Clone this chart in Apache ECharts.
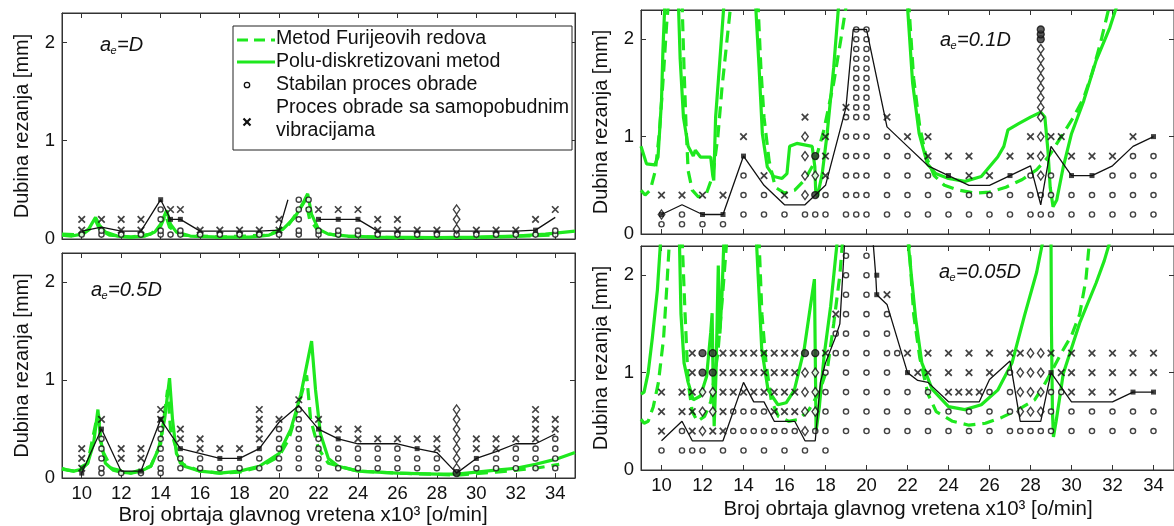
<!DOCTYPE html>
<html><head><meta charset="utf-8">
<script src="https://cdn.jsdelivr.net/npm/echarts@6/dist/echarts.min.js"></script>
<style>html,body{margin:0;padding:0;background:#fff}#c{width:1174px;height:526px}</style>
</head><body><div id="c"></div><script>
const FONT = '"Liberation Sans", Arial, Helvetica, sans-serif';
const GREEN = '#1ee81e';
const INK = '#111111';

// ---------- ticks ----------
const X_TICKS = [10,12,14,16,18,20,22,24,26,28,30,32,34];
const Y_TICKS = [0,1,2];
const X_TITLE = 'Broj obrtaja glavnog vretena x10³ [o/min]';
const Y_TITLE = 'Dubina rezanja [mm]';
const LEGEND_TEXT = ['Metod Furijeovih redova','Polu-diskretizovani metod','Stabilan proces obrade','Proces obrade sa samopobudnim','vibracijama'];

// ---------- Panel A : a_e = D ----------
const A_stable = [[0.045,[10,11,12,13,14,14.5,15,16,17,18,19,20,21,22,23,24,25,26,27,28,29,30,31,32,33,34]],[0.085,[11,14,15,21,22,23,24,34]],[0.2,[14,21]],[0.3,[14,21,21.5]],[0.4,[21,21.5]]];
const A_chatter = [[0.09,[10,12,13,16,17,18,19,20,25,26,27,28,30,31,32]],[0.2,[10,11,12,13,20,25,26,33]],[0.3,[14.5,15,22,23,24,34]]];
const A_diamond = [[0.1,[29]],[0.2,[29]],[0.3,[29]]];
const A_dot = [];
const A_square = [[14,0.4],[14.5,0.2],[15,0.2],[22,0.2],[23,0.2],[24,0.2],[33,0.09]];
const A_line = [[[10,0.08],[11,0.12],[12,0.08],[13,0.08],[14,0.4],[14.5,0.2],[15,0.2],[16,0.08],[17,0.08],[18,0.08],[19,0.08],[20,0.09],[20.45,0.4]],
  [[22,0.2],[23,0.2],[24,0.2],[25,0.08],[26,0.08],[27,0.08],[28,0.08],[29,0.08],[30,0.08],[31,0.08],[32,0.08],[33,0.09],[34,0.22]]];
const A_solid = [[[9,0.04],[9.5,0.03],[10,0.05],[10.35,0.1],[10.7,0.22],[10.9,0.14],[11.2,0.07],[11.8,0.03],[12.5,0.02],[13.2,0.03],[13.7,0.07],[14.0,0.15],[14.3,0.29],[14.5,0.15],[14.8,0.07],[15.5,0.03],[17,0.02],[18.5,0.02],[19.5,0.04],[20.2,0.1],[20.8,0.22],[21.2,0.36],[21.45,0.46],[21.65,0.25],[22.0,0.1],[22.5,0.05],[23.5,0.03],[25,0.02],[28,0.015],[30,0.02],[32,0.03],[33.5,0.05],[35,0.08]]];
const A_dashed = [[[9,0.05],[10,0.04],[10.4,0.1],[10.7,0.19],[10.9,0.1],[11.4,0.04],[12.5,0.02],[13.5,0.05],[14.0,0.13],[14.25,0.25],[14.45,0.12],[15,0.04],[17,0.02],[19.5,0.04],[20.5,0.15],[21.1,0.32],[21.35,0.4],[21.55,0.2],[22,0.08],[23,0.03],[26,0.012],[30,0.015],[34,0.04]]];

// ---------- Panel B : a_e = 0.5D ----------
const B_stable = [[0.05,[11,12,13,14]],[0.1,[11,14,15,16,17,18,19,20,21,22,23,24,25,26,27,28,30,31,32,33,34]],[0.2,[11,14,15,16,19,20,21,22,23,24,25,26,27,28,31,32,33,34]],[0.3,[11,14,20,21,22,23,24,25,26,32,33,34]],[0.4,[11,14,20,21,22,34]],[0.5,[14,20,21]],[0.6,[21]],[0.7,[21]]];
const B_chatter = [[0.1,[10]],[0.2,[10,12,13]],[0.3,[10,12,13,16,17,18,28,30,31]],[0.4,[15,16,19,24,25,26,27,28,30,31,32,33]],[0.5,[15,19,23,24,33,34]],[0.6,[11,14,19,20,22,33,34]],[0.7,[14,19,33]],[0.8,[21]]];
const B_diamond = [[0.1,[29]],[0.2,[29]],[0.3,[29]],[0.4,[29]],[0.5,[29]],[0.6,[29]],[0.7,[29]]];
const B_dot = [[29,0.05]];
const B_square = [[10,0.05],[11,0.5],[13,0.07],[14,0.6],[15,0.3],[17,0.2],[18,0.2],[19,0.3],[22,0.5],[23,0.4],[27,0.3],[30,0.2]];
const B_line = [[[10,0.05],[11,0.5],[12,0.07],[13,0.07],[14,0.6],[15,0.3],[17,0.2],[18,0.2],[19,0.3],[20,0.57],[21,0.74],[22,0.5],[23,0.4],[24,0.35],[26,0.35],[27,0.3],[28,0.26],[29,0.05],[30,0.2],[31,0.27],[32,0.35],[33,0.35],[34,0.45]]];
const B_solid = [[[9,0.1],[9.3,0.08],[9.6,0.07],[10,0.09],[10.3,0.15],[10.6,0.35],[10.82,0.7],[10.95,0.4],[11.2,0.15],[11.6,0.08],[12,0.06],[12.5,0.05],[13,0.07],[13.5,0.12],[13.9,0.3],[14.2,0.6],[14.45,1.02],[14.6,0.6],[14.8,0.25],[15.2,0.12],[16,0.07],[17,0.05],[18,0.07],[19,0.12],[20,0.25],[20.6,0.5],[21.1,0.85],[21.45,1.2],[21.65,1.4],[21.85,0.9],[22.1,0.45],[22.5,0.2],[23,0.12],[24,0.07],[26,0.05],[28,0.04],[29,0.04],[30,0.06],[31,0.08],[32,0.1],[33,0.14],[34,0.19],[35,0.26]]];
const B_dashed = [[[9,0.09],[9.6,0.07],[10.3,0.15],[10.7,0.55],[10.85,0.65],[11.0,0.3],[11.5,0.1],[12.5,0.05],[13.5,0.12],[14.0,0.35],[14.35,0.9],[14.5,0.5],[15,0.15],[16,0.07],[17,0.05],[18,0.06],[19,0.11],[20,0.22],[20.5,0.4],[21.0,0.75],[21.4,1.05],[21.6,0.6],[22,0.3],[22.5,0.15],[24,0.07],[26,0.05],[29,0.03],[31,0.06],[33,0.1],[34.2,0.14]]];

// ---------- Panel C : a_e = 0.1D ----------
const C_stable = [[0.1,[10,11,12,13]],[0.2,[11,14,15,16,17,17.5,18,19,19.5,20,21,22,23,24,25,26,27,28,28.5,29,30,31,32,33,34]],[0.4,[14,15,18,19,19.5,20,21,22,23,24,25,26,27,28,28.5,29,30,31,32,33,34]],[0.6,[14,19,19.5,20,21,22,23,28,29,32,33,34]],[0.8,[19,19.5,20,21,22,33,34]],[1.0,[19,19.5,20,21]],[1.2,[19,19.5,20]],[1.3,[19.5,20]],[1.4,[19.5,20]],[1.5,[19.5,20]],[1.6,[19.5,20]],[1.7,[19.5,20]],[1.8,[19.5,20]],[1.9,[19.5,20]],[2.0,[19.5,20]],[2.1,[19.5,20]]];
const C_chatter = [[0.4,[10,11,12,13,16]],[0.6,[15,18,25,26]],[0.8,[18,23,24,25,27,28,30,31,32]],[1.0,[14,18,22,23,28,29,29.5,33]],[1.2,[17,21]],[1.3,[19]]];
const C_diamond = [[0.2,[10]],[0.4,[17]],[0.6,[17,17.5,28.5]],[0.8,[17,28.5]],[1.0,[17,28.5]],[1.2,[28.5]],[1.3,[28.5]],[1.4,[28.5]],[1.5,[28.5]],[1.6,[28.5]],[1.7,[28.5]],[1.8,[28.5]],[1.9,[28.5]]];
const C_dot = [[17.5,0.4],[17.5,0.8],[28.5,2.0],[28.5,2.05],[28.5,2.1]];
const C_square = [[10,0.2],[12,0.2],[13,0.2],[14,0.8],[24,0.6],[27,0.6],[30,0.6],[31,0.6],[34,1.0]];
const C_line = [[[10,0.2],[11,0.3],[12,0.2],[13,0.2],[14,0.8],[15,0.5],[16,0.3],[17,0.3],[17.5,0.4],[18,0.5],[19,1.3],[19.35,2.1],[20,2.1],[21,1.1],[22,0.9],[23,0.7],[24,0.6],[25,0.5],[26,0.5],[27,0.6],[28,0.7],[28.5,0.3],[29,0.9],[30,0.6],[31,0.6],[32,0.7],[33,0.9],[34,1.0]]];
const C_solid = [
  [[9,0.9],[9.27,0.72],[9.67,0.71],[9.83,0.79],[10.0,1.37],[10.07,1.89],[10.17,2.4]],
  [[10.82,2.4],[10.91,1.8],[11.07,1.2],[11.3,0.9],[11.55,0.8],[11.65,0.86],[11.9,0.79],[12.4,0.79],[12.5,0.6],[12.55,0.55],[12.64,1.2],[12.88,1.88],[13.06,2.4]],
  [[14.58,2.4],[14.76,1.71],[14.92,1.03],[15.16,0.69],[15.48,0.59],[15.88,0.57],[16.12,0.62],[16.25,0.9],[16.6,0.93],[17.1,0.91],[17.35,0.9],[17.48,0.69],[17.52,0.45],[17.6,0.38],[17.84,0.62],[18.08,1.03],[18.4,1.71],[18.66,2.4]],
  [[21.98,2.4],[22.25,1.55],[22.57,1.03],[22.97,0.72],[23.37,0.62],[24.0,0.57],[24.8,0.54],[25.6,0.59],[26.4,0.79],[26.7,0.9],[26.9,1.07],[27.4,1.13],[28.0,1.2],[28.5,1.25],[28.7,1.2],[28.85,0.86],[28.96,0.48],[29.1,0.28],[29.28,0.35],[29.6,0.69],[30.0,1.03],[30.6,1.37],[31.2,1.78],[31.87,2.12],[32.3,2.4]]
];
const C_dashed = [
  [[9,0.45],[9.2,0.4],[9.45,0.45],[9.7,0.65],[9.9,1.05],[10.1,1.65],[10.25,2.15],[10.35,2.4]],
  [[11.0,2.4],[11.1,1.7],[11.2,1.1],[11.3,0.65],[11.5,0.45],[11.8,0.38],[12.2,0.42],[12.5,0.6],[12.75,1.0],[12.95,1.5],[13.2,2.0],[13.4,2.4]],
  [[14.7,2.4],[14.85,1.7],[15.0,1.2],[15.25,0.75],[15.55,0.48],[16.0,0.42],[16.5,0.45],[17.0,0.56],[17.5,0.75],[17.9,1.05],[18.4,1.55],[18.75,2.0],[19.05,2.4]],
  [[22.05,2.4],[22.3,1.6],[22.6,1.1],[22.9,0.8],[23.3,0.6],[23.8,0.5],[24.5,0.45],[25.3,0.42],[26.0,0.43],[26.8,0.48],[27.6,0.56],[28.3,0.66],[28.9,0.8],[29.5,1.0],[30.1,1.2],[30.6,1.4],[31.0,1.65],[31.4,1.95],[31.8,2.3],[31.9,2.4]]
];

// ---------- Panel D : a_e = 0.05D ----------
const D_stable = [[0.2,[10,11,11.5,12,13,14,15,16,17,18]],[0.4,[11,13.5,14,14.5,15,15.5,16,16.5,17.5,18,19,20,21,22,23,24,25,26,27,27.5,28,28.5,29,30,31,32,33,34]],[0.6,[13.5,14,14.5,15,18,19,20,21,22,23,24,25,26,27,29,30,31,32,33,34]],[0.8,[18,19,20,21,22,23,26,27,29,29.5]],[1.0,[18,19,20,21,27]],[1.2,[18.5,19,20,21,21.5]],[1.4,[18.5,19,20,21]],[1.6,[19,20,21]],[1.8,[19,20]],[2.0,[19,20]],[2.2,[19,20]]];
const D_chatter = [[0.4,[10,11.5,12.5,13]],[0.6,[10,11,11.5,13,15.5,16,16.5]],[0.8,[10,11,11.5,13,13.5,14,14.5,15,15.5,16,16.5,24,24.5,25,25.5,30,31,32]],[1.0,[11.5,13,13.5,14,14.5,15,15.5,16,16.5,22.5,23,24,25,26,29.5,30,31,32,33,34]],[1.2,[11.5,13,13.5,14,14.5,15,15.5,16,16.5,18,22,23,24,25,26,27,27.5,29,30,31,32,33,34]],[1.6,[18.5]],[1.8,[21]]];
const D_diamond = [[0.4,[12,17]],[0.6,[12,12.5,17,17.5,27.5,28,28.5]],[0.8,[12,12.5,17,17.5,27.5,28,28.5]],[1.0,[17,17.5,27.5,28,28.5]],[1.2,[28,28.5]]];
const D_dot = [[12,1.0],[12.5,1.0],[12,1.2],[12.5,1.2],[17,1.2],[17.5,1.2]];
const D_square = [[20.5,2.0],[20.5,1.8],[22,1.0],[29,1.0],[33,0.8],[34,0.8]];
const D_line = [[[10,0.3],[11,0.5],[11.5,0.3],[13,0.3],[14,0.9],[14.5,0.7],[15,0.7],[15.5,0.5],[16.5,0.5],[17,0.3],[17.5,0.3],[17.75,0.9],[18,1.1],[18.5,1.37],[18.7,1.5],[18.95,2.4],[20.3,2.4],[20.45,2.0],[20.5,1.8],[21,1.7],[22,1.0],[22.5,0.92],[23,0.9],[24,0.7],[25.5,0.7],[26,0.93],[27,1.12],[27.5,0.5],[28.5,0.5],[29,1.0],[30,0.7],[32,0.7],[33,0.8],[34,0.8]]];
const D_solid = [
  [[9,0.78],[9.15,0.8],[9.35,1.0],[9.55,1.35],[9.8,1.85],[9.97,2.4]],
  [[10.87,2.4],[10.95,1.6],[11.1,1.1],[11.3,0.9],[11.55,0.72],[11.9,0.76],[12.2,0.96],[12.4,1.41],[12.47,1.61],[12.52,0.9],[12.57,0.45],[12.66,1.0],[12.77,2.1],[12.85,1.4],[12.95,1.8],[13.05,2.4]],
  [[14.62,2.4],[14.89,1.24],[15.2,0.82],[15.68,0.67],[16.08,0.69],[16.48,0.82],[16.96,1.24],[17.36,1.82],[17.46,1.96],[17.5,1.2],[17.54,0.4],[17.7,0.65],[17.93,1.17],[18.25,1.68],[18.5,2.2],[18.6,2.4]],
  [[22.0,2.4],[22.4,1.55],[22.7,1.1],[23.2,0.83],[24.0,0.65],[24.8,0.62],[25.6,0.67],[26.4,0.82],[27.1,1.1],[27.7,1.58],[28.3,2.03],[28.65,2.4]],
  [[29.0,2.4],[29.02,1.5],[29.07,0.6],[29.12,0.34],[29.25,0.5],[29.6,0.99],[30.0,1.25],[30.4,1.51],[31.2,1.92],[31.6,2.15],[31.95,2.4]]
];
const D_dashed = [
  [[9,0.52],[9.15,0.48],[9.35,0.5],[9.6,0.65],[9.85,0.9],[10.1,1.35],[10.25,1.85],[10.4,2.4]],
  [[11.0,2.4],[11.15,1.6],[11.3,0.9],[11.5,0.6],[11.75,0.5],[12.1,0.55],[12.4,0.7],[12.75,1.2],[13.0,1.85],[13.2,2.4]],
  [[14.75,2.4],[14.9,1.6],[15.1,1.1],[15.35,0.72],[15.7,0.55],[16.2,0.5],[16.7,0.52],[17.2,0.62],[17.7,0.8],[18.1,1.05],[18.4,1.5],[18.7,2.0],[18.85,2.4]],
  [[22.05,2.4],[22.3,1.6],[22.6,1.15],[23.0,0.78],[23.4,0.6],[24.2,0.5],[25.0,0.46],[25.8,0.48],[26.6,0.54],[27.4,0.62],[28.2,0.72],[28.6,0.85],[29.0,1.0],[29.5,1.2],[30.0,1.38],[30.4,1.6],[30.7,1.95],[30.9,2.4]]
];

// ---------- helpers ----------
function rowsToPts(rows){ const out=[]; rows.forEach(r=>r[1].forEach(x=>out.push([x,r[0]]))); return out; }
function joinLobes(lobes){ const out=[]; lobes.forEach((l,i)=>{ if(i) out.push([l[0][0],'-']); l.forEach(p=>out.push(p)); }); return out; }

const panels = [
  {grid:{left:62,top:13,width:513,height:226}, xl:false, st:A_stable, ch:A_chatter, di:A_diamond, dot:A_dot, sq:A_square, line:A_line, solid:A_solid, dashed:A_dashed},
  {grid:{left:62,top:253,width:513,height:225}, xl:true, st:B_stable, ch:B_chatter, di:B_diamond, dot:B_dot, sq:B_square, line:B_line, solid:B_solid, dashed:B_dashed},
  {grid:{left:641,top:10,width:541,height:224}, xl:false, st:C_stable, ch:C_chatter, di:C_diamond, dot:C_dot, sq:C_square, line:C_line, solid:C_solid, dashed:C_dashed},
  {grid:{left:641,top:246,width:541,height:224}, xl:true, st:D_stable, ch:D_chatter, di:D_diamond, dot:D_dot, sq:D_square, line:D_line, solid:D_solid, dashed:D_dashed}
];

const tickStyle = {inside:true, length:5, lineStyle:{color:'#333', width:1}};
const grids=[], xAxes=[], yAxes=[], series=[];
panels.forEach((p,i)=>{
  grids.push(Object.assign({show:true, borderColor:'#333', borderWidth:1, backgroundColor:'#fff'}, p.grid));
  const xb = {gridIndex:i, type:'value', min:9, max:35, splitLine:{show:false},
    axisLine:{show:true, onZero:false, lineStyle:{color:'#333'}},
    axisTick:Object.assign({customValues:X_TICKS}, tickStyle)};
  xAxes.push(Object.assign({}, xb, {position:'bottom', axisLabel:{show:p.xl, customValues:X_TICKS, fontSize:18.5, fontFamily:FONT, color:'#111', margin:6}}));
  xAxes.push(Object.assign({}, xb, {position:'top', axisLabel:{show:false}}));
  const yb = {gridIndex:i, type:'value', min:0, max:2.3, splitLine:{show:false},
    axisLine:{show:true, onZero:false, lineStyle:{color:'#333'}},
    axisTick:Object.assign({customValues:Y_TICKS}, tickStyle)};
  yAxes.push(Object.assign({}, yb, {position:'left', axisLabel:{customValues:Y_TICKS, fontSize:18.5, fontFamily:FONT, color:'#111', margin:7},
    name:Y_TITLE, nameLocation:'middle', nameRotate:90, nameGap:30, nameTextStyle:{fontSize:20, fontFamily:FONT, color:'#111'}}));
  yAxes.push(Object.assign({}, yb, {position:'right', axisLabel:{show:false}}));
  const ax = {xAxisIndex:2*i, yAxisIndex:2*i, silent:true};
  series.push(Object.assign({type:'line', data:joinLobes(p.dashed), symbol:'none', z:2, lineStyle:{color:GREEN, width:3.2, type:[12,7]}}, ax));
  series.push(Object.assign({type:'line', data:joinLobes(p.solid), symbol:'none', z:2, lineStyle:{color:GREEN, width:3.2}}, ax));
  series.push(Object.assign({type:'scatter', data:rowsToPts(p.st), symbol:'circle', symbolSize:5.2, z:4, itemStyle:{color:'#fff', borderColor:INK, borderWidth:1.4}}, ax));
  series.push(Object.assign({type:'scatter', data:rowsToPts(p.ch), symbol:'path://M0,0L10,10M10,0L0,10', symbolSize:6.5, z:4, itemStyle:{color:'rgba(0,0,0,0)', borderColor:INK, borderWidth:1.7}}, ax));
  series.push(Object.assign({type:'scatter', data:rowsToPts(p.di), symbol:'diamond', symbolSize:[6.5,9], z:4, itemStyle:{color:'#fff', borderColor:INK, borderWidth:1.4}}, ax));
  series.push(Object.assign({type:'scatter', data:p.dot, symbol:'circle', symbolSize:7, z:4, itemStyle:{color:'#333', borderColor:INK, borderWidth:1.3}}, ax));
  series.push(Object.assign({type:'line', data:joinLobes(p.line), symbol:'none', z:5, lineStyle:{color:INK, width:1.3}}, ax));
  series.push(Object.assign({type:'scatter', data:p.sq, symbol:'rect', symbolSize:5, z:6, itemStyle:{color:INK}}, ax));
});

function aeLabel(x, y, rest){
  const st = {fill:'#111', fontFamily:FONT, fontStyle:'italic', verticalAlign:'middle'};
  return [
    {type:'text', x:x, y:y, z:50, style:Object.assign({text:'a', fontSize:20}, st)},
    {type:'text', x:x+10.5, y:y+6, z:50, style:Object.assign({text:'e', fontSize:11}, st)},
    {type:'text', x:x+17, y:y, z:50, style:Object.assign({text:rest, fontSize:20}, st)}
  ];
}
const txt = (t,x,y,size,align)=>({type:'text', x:x, y:y, z:60, style:{text:t, fontSize:size, fontFamily:FONT, fill:'#111', align:align||'left', verticalAlign:'middle'}});

const graphic = [].concat(
  aeLabel(100,45,'=D'), aeLabel(91,290,'=0.5D'), aeLabel(940,40,'=0.1D'), aeLabel(939,272,'=0.05D'),
  [
    {type:'rect', z:55, shape:{x:233,y:26,width:339,height:124}, style:{fill:'#fff', stroke:'#222', lineWidth:1}},
    {type:'line', z:60, shape:{x1:237,y1:40,x2:275,y2:40}, style:{stroke:GREEN, lineWidth:3, lineDash:[11,6]}},
    {type:'line', z:60, shape:{x1:237,y1:62,x2:275,y2:62}, style:{stroke:GREEN, lineWidth:3}},
    {type:'circle', z:60, shape:{cx:247,cy:85,r:2.7}, style:{fill:'#fff', stroke:INK, lineWidth:1.3}},
    {type:'line', z:60, shape:{x1:243.5,y1:118.5,x2:250.5,y2:125.5}, style:{stroke:INK, lineWidth:2.2}},
    {type:'line', z:60, shape:{x1:250.5,y1:118.5,x2:243.5,y2:125.5}, style:{stroke:INK, lineWidth:2.2}},
    txt(LEGEND_TEXT[0],276,39,19.6), txt(LEGEND_TEXT[1],276,62,19.6), txt(LEGEND_TEXT[2],276,85,19.6),
    txt(LEGEND_TEXT[3],276,108,19.6), txt(LEGEND_TEXT[4],276,131,19.6),
    txt(X_TITLE,303,515,20.5,'center'), txt(X_TITLE,908,509,20.5,'center')
  ]);

const chart = echarts.init(document.getElementById('c'), null, {renderer:'canvas'});
chart.setOption({animation:false, backgroundColor:'#fff', grid:grids, xAxis:xAxes, yAxis:yAxes, series:series, graphic:graphic});
</script></body></html>
